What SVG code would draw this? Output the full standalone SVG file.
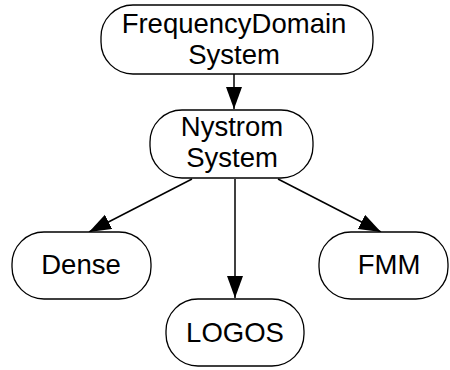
<svg xmlns="http://www.w3.org/2000/svg" width="450" height="370" viewBox="0 0 450 370">
<style>
.n rect{fill:#fff;stroke:#000;stroke-width:1.3}
.n text{font-family:"Liberation Sans",Arial,sans-serif;font-size:27.5px;text-anchor:middle;fill:#000}
.c line{stroke:#000;stroke-width:1.5;marker-end:url(#ah)}
</style>
<defs>
<marker id="ah" markerUnits="userSpaceOnUse" markerWidth="24" markerHeight="18" refX="22" refY="8" orient="auto">
<path d="M0,0 L22,8 L0,16 z" fill="#000"/>
</marker>
</defs>
<g class="c" id="connectors">
<line x1="234" y1="74" x2="234" y2="109"/>
<line x1="192" y1="179" x2="89" y2="232"/>
<line x1="235" y1="179" x2="235" y2="298"/>
<line x1="278" y1="179" x2="381" y2="232"/>
</g>
<g class="n" id="frequencydomain">
<rect x="101" y="5" width="272" height="69" rx="32" ry="32"/>
<text x="234" y="33">FrequencyDomain</text>
<text x="234" y="64">System</text>
</g>
<g class="n" id="nystrom">
<rect x="150" y="110" width="163" height="68" rx="32" ry="32"/>
<text x="232" y="136">Nystrom</text>
<text x="232" y="167">System</text>
</g>
<g class="n" id="dense">
<rect x="12" y="232" width="139" height="67" rx="32" ry="32"/>
<text x="81" y="274">Dense</text>
</g>
<g class="n" id="fmm">
<rect x="319" y="232" width="129" height="67" rx="32" ry="32"/>
<text x="389" y="274">FMM</text>
</g>
<g class="n" id="logos">
<rect x="166" y="299" width="138" height="67" rx="32" ry="32"/>
<text x="235" y="342">LOGOS</text>
</g>
</svg>
